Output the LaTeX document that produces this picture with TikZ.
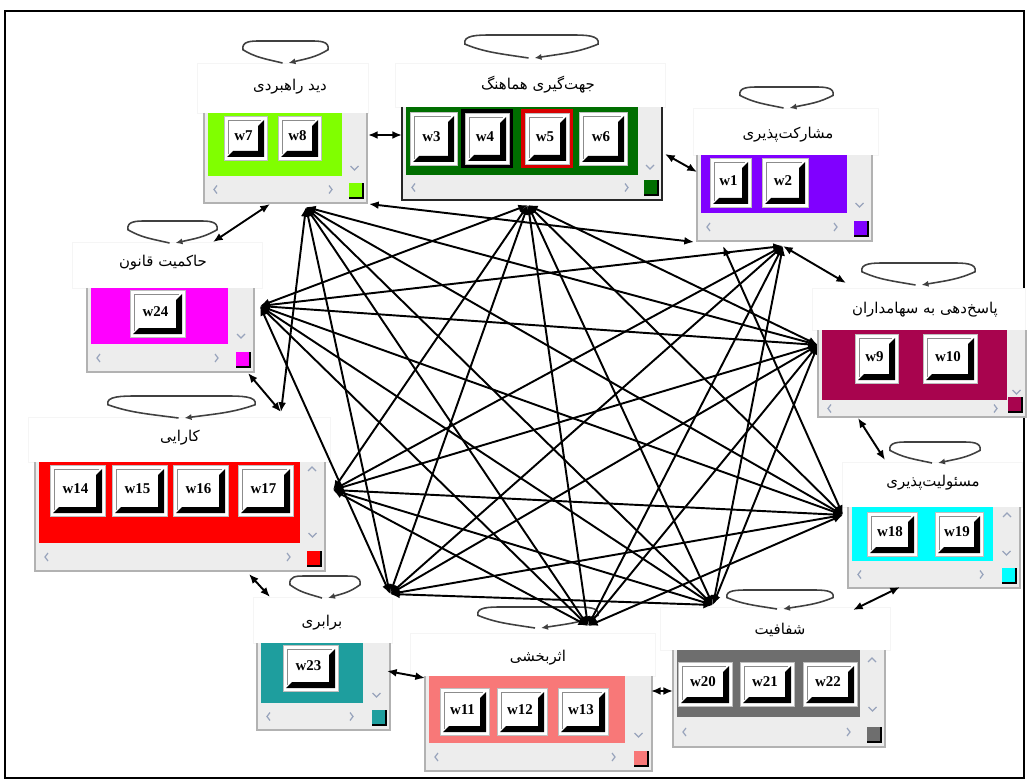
\documentclass[tikz,border=0pt]{standalone}
\usepackage{fontspec}
\newfontfamily\fa[Script=Arabic]{DejaVu Sans}
\newfontfamily\wfont{Liberation Serif}
\TeXXeTstate=1
\usetikzlibrary{arrows.meta}
\definecolor{cDid}{HTML}{80FF00}
\definecolor{cJeh}{HTML}{006E00}
\definecolor{cMosh}{HTML}{8000FF}
\definecolor{cPas}{HTML}{A8044E}
\definecolor{cMas}{HTML}{00FFFF}
\definecolor{cShaf}{HTML}{6E6E6E}
\definecolor{cAsar}{HTML}{F87878}
\definecolor{cBar}{HTML}{1E9E9E}
\definecolor{cKar}{HTML}{FF0000}
\definecolor{cHak}{HTML}{FF00FF}
\definecolor{scrollc}{HTML}{EDEDED}
\definecolor{chevc}{HTML}{98A4BC}
\tikzset{
  link/.style={line width=1.1pt, >={Latex[length=5.5pt,width=4.5pt]}, <->},
  adj/.style={line width=1.1pt, >={Latex[length=5.5pt,width=4.5pt]}, <->},
  loopline/.style={draw=black!75, line width=0.9pt, -{Latex[length=4pt,width=3.5pt]}},
  lbl/.style={font=\fa\fontsize{8.5}{10}\selectfont, inner sep=0pt},
  wlab/.style={font=\wfont\bfseries\fontsize{8.5}{9}\selectfont, inner sep=0pt},
  chev/.style={draw=chevc, line width=0.7pt},
  lblarea/.style={fill=white, draw=black!4, line width=0.5pt},
}
% window: x1 ytop x2 ybot pbot pright color border
\newcommand{\winbox}[8]{%
  \pgfmathsetmacro\hyc{(#5+#4)/2}%
  \pgfmathsetmacro\vxc{(#6+#3)/2}%
  \fill[scrollc] (#1,#2) rectangle (#3,#4);
  \fill[#7] ({#1+4},#2) rectangle (#6,#5);
  \draw[#8, line width=1.2pt] (#1,#2) -- (#1,#4) -- (#3,#4) -- (#3,#2);
  \fill[#7] ({#3-18},{#4-20}) rectangle ({#3-4},{#4-5});
  \draw[black, line width=1pt] ({#3-18},{#4-5}) -- ({#3-4},{#4-5}) -- ({#3-4},{#4-20});
  \draw[chev] ({#1+13},{\hyc-4}) -- ({#1+10},\hyc) -- ({#1+13},{\hyc+4});
  \draw[chev] ({#6-13},{\hyc-4}) -- ({#6-10},\hyc) -- ({#6-13},{\hyc+4});
  \draw[chev] ({\vxc-4},{#5-10}) -- (\vxc,{#5-6}) -- ({\vxc+4},{#5-10});
}
\newcommand{\upchev}[2]{\draw[chev] ({#1-4},{#2+2}) -- (#1,{#2-2}) -- ({#1+4},{#2+2});}
% button: x1 y1 x2 y2 name label
\newcommand{\wbtn}[6]{%
  \pgfmathsetmacro\bxc{(#1+#3)/2-2}%
  \pgfmathsetmacro\byc{(#2+#4)/2-2}%
  \fill[white] (#1,#2) rectangle (#3,#4);
  \draw[black!25, line width=0.4pt] (#1,#2) rectangle (#3,#4);
  \fill[black] ({#3-3},{#2+4}) -- ({#3-3},{#4-3}) -- ({#1+3},{#4-3}) -- ({#1+9},{#4-9}) -- ({#3-9},{#4-9}) -- ({#3-9},{#2+10}) -- cycle;
  \draw[black!45, line width=0.5pt] ({#1+4},{#4-6}) -- ({#1+4},{#2+4}) -- ({#3-6},{#2+4});
  \node[wlab] (#5) at (\bxc,\byc) {#6};
}
% self loop: x1 x2 ytop ybot
\newcommand{\sloop}[4]{%
  \pgfmathsetmacro\lW{#2-#1}%
  \pgfmathsetmacro\lH{#4-#3}%
  \pgfmathsetmacro\lcx{(#1+#2)/2}%
  \pgfmathsetmacro\lye{#3+0.4*\lH}%
  \pgfmathsetmacro\lbl{\lcx-0.25*\lW}\pgfmathsetmacro\lbr{\lcx+0.25*\lW}%
  \pgfmathsetmacro\lby{#4-0.2*\lH}%
  \pgfmathsetmacro\lel{#1+0.15*\lW}\pgfmathsetmacro\ler{#2-0.15*\lW}%
  \pgfmathsetmacro\ley{\lye+0.35*\lH}%
  \pgfmathsetmacro\lxl{#1-0.02*\lW}\pgfmathsetmacro\lxr{#2+0.02*\lW}%
  \pgfmathsetmacro\ltu{\lye-0.4*\lH}%
  \pgfmathsetmacro\lta{#1+0.1*\lW}\pgfmathsetmacro\ltb{#1+0.2*\lW}%
  \pgfmathsetmacro\ltc{#2-0.2*\lW}\pgfmathsetmacro\ltd{#2-0.1*\lW}%
  \draw[loopline] ({\lcx-3},#4) .. controls (\lbl,\lby) and (\lel,\ley) .. (#1,\lye)
    .. controls (\lxl,\ltu) and (\lta,#3) .. (\ltb,#3) -- (\ltc,#3)
    .. controls (\ltd,#3) and (\lxr,\ltu) .. (#2,\lye)
    .. controls (\ler,\ley) and (\lbr,\lby) .. ({\lcx+3},#4);
}
\begin{document}
\begin{tikzpicture}[x=0.02cm,y=-0.02cm]
\useasboundingbox (0,0) rectangle (1029,784);
\draw[line width=1.3pt] (5,11) rectangle (1024,778);

% label areas
\filldraw[lblarea] (197,63) rectangle (368,113);
\filldraw[lblarea] (395,63) rectangle (665,107);
\filldraw[lblarea] (693,108) rectangle (878,155);
\filldraw[lblarea] (812,288) rectangle (1025,330);
\filldraw[lblarea] (842,462) rectangle (1022,507);
\filldraw[lblarea] (660,607) rectangle (890,650);
\filldraw[lblarea] (410,633) rectangle (655,676);
\filldraw[lblarea] (253,597) rectangle (392,643);
\filldraw[lblarea] (28,417) rectangle (330,462);
\filldraw[lblarea] (72,242) rectangle (262,288);

% self loops
\sloop{243}{328}{41}{63}
\sloop{465}{598}{35}{58}
\sloop{740}{833}{87}{108}
\sloop{862}{975}{263}{285}
\sloop{890}{980}{442}{463}
\sloop{727}{833}{590}{609}
\sloop{478}{598}{607}{628}
\sloop{290}{360}{576}{598}
\sloop{108}{255}{396}{418}
\sloop{128}{217}{221}{243}

% hubs
\coordinate (A) at (306,207);
\coordinate (B) at (528,205);
\coordinate (C) at (783,246);
\coordinate (D) at (818,345);
\coordinate (E) at (843,515);
\coordinate (F) at (713,605);
\coordinate (G) at (588,626);
\coordinate (H) at (390,594);
\coordinate (I) at (333,490);
\coordinate (J) at (281,412);
\coordinate (K) at (260,306);
\coordinate (P1) at (369,204);
\coordinate (P2) at (694,242);
\coordinate (P3) at (723,246);

\foreach \a/\b in {A/D,A/E,A/F,A/G,A/H,A/J,B/D,B/E,B/F,B/G,B/H,B/I,B/K,C/F,C/G,C/H,C/I,C/K,D/F,D/G,D/H,D/I,D/K,E/G,E/H,E/I,E/K,F/H,F/I,F/K,G/I,G/K,H/K,P1/P2,E/P3}
  \draw[link] (\a) -- (\b);

% windows
\winbox{204}{113}{367}{203}{176}{342}{cDid}{gray!60}
\winbox{402}{107}{662}{200}{175}{638}{cJeh}{black!85}
\winbox{697}{155}{872}{241}{213}{847}{cMosh}{gray!60}
\winbox{818}{330}{1026}{417}{400}{1007}{cPas}{gray!60}
\winbox{848}{507}{1020}{588}{561}{993}{cMas}{gray!60}
\winbox{673}{650}{885}{747}{717}{860}{cShaf}{gray!60}
\winbox{425}{676}{652}{771}{743}{625}{cAsar}{gray!60}
\winbox{257}{643}{390}{730}{703}{363}{cBar}{gray!60}
\winbox{35}{462}{325}{571}{543}{300}{cKar}{gray!60}
\winbox{87}{288}{254}{372}{344}{228}{cHak}{gray!60}
\upchev{1007}{515}
\upchev{872}{660}
\upchev{312}{469}

% buttons
\draw[black, line width=2.2pt] (463,111) rectangle (511,166);
\draw[red!85!black, line width=2pt] (523,111) rectangle (571,166);
\wbtn{224}{116}{267}{160}{w7}{w7}
\wbtn{278}{116}{321}{160}{w8}{w8}
\wbtn{410}{112}{457}{165}{w3}{w3}
\wbtn{465}{113}{509}{164}{w4}{w4}
\wbtn{525}{113}{569}{164}{w5}{w5}
\wbtn{579}{112}{627}{165}{w6}{w6}
\wbtn{710}{158}{751}{207}{w1}{w1}
\wbtn{762}{158}{808}{207}{w2}{w2}
\wbtn{855}{334}{898}{383}{w9}{w9}
\wbtn{923}{334}{977}{383}{w10}{w10}
\wbtn{867}{512}{917}{556}{w18}{w18}
\wbtn{935}{512}{983}{556}{w19}{w19}
\wbtn{678}{662}{732}{706}{w20}{w20}
\wbtn{740}{662}{794}{706}{w21}{w21}
\wbtn{803}{662}{857}{706}{w22}{w22}
\wbtn{440}{688}{489}{735}{w11}{w11}
\wbtn{497}{688}{547}{735}{w12}{w12}
\wbtn{558}{688}{608}{735}{w13}{w13}
\wbtn{283}{645}{338}{691}{w23}{w23}
\wbtn{50}{465}{105}{516}{w14}{w14}
\wbtn{112}{465}{167}{516}{w15}{w15}
\wbtn{173}{465}{228}{516}{w16}{w16}
\wbtn{238}{465}{293}{516}{w17}{w17}
\wbtn{130}{290}{185}{337}{w24}{w24}

% adjacency arrows
\coordinate (a1) at (368,135); \coordinate (a2) at (402,135);
\coordinate (b1) at (665,154); \coordinate (b2) at (697,172);
\coordinate (c2) at (846,283);
\coordinate (d1) at (858,418); \coordinate (d2) at (885,460);
\coordinate (e1) at (900,587); \coordinate (e2) at (853,610);
\coordinate (f1) at (651,691); \coordinate (f2) at (673,691);
\coordinate (g1) at (387,671); \coordinate (g2) at (425,678);
\coordinate (h1) at (249,574); \coordinate (h2) at (270,597);
\coordinate (k1) at (248,373);
\coordinate (m1) at (213,242); \coordinate (m2) at (270,204);
\foreach \a/\b in {a1/a2,b1/b2,C/c2,d1/d2,e1/e2,f1/f2,g1/g2,h1/h2,k1/J,m1/m2}
  \draw[adj] (\a) -- (\b);

% labels
\node[lbl] (t1) at (290,87) {\fa\beginR دید راهبردی\endR};
\node[lbl] (t2) at (538,85) {\fa\beginR جهت^^^^200cگیری هماهنگ\endR};
\node[lbl] (t3) at (788,135) {\fa\beginR مشارکت^^^^200cپذیری\endR};
\node[lbl] (t4) at (925,310) {\fa\beginR پاسخ^^^^200cدهی به سهامداران\endR};
\node[lbl] (t5) at (933,483) {\fa\beginR مسئولیت^^^^200cپذیری\endR};
\node[lbl] (t6) at (780,630) {\fa\beginR شفافیت\endR};
\node[lbl] (t7) at (538,658) {\fa\beginR اثربخشی\endR};
\node[lbl] (t8) at (322,623) {\fa\beginR برابری\endR};
\node[lbl] (t9) at (180,438) {\fa\beginR کارایی\endR};
\node[lbl] (t10) at (163,263) {\fa\beginR حاکمیت قانون\endR};
\end{tikzpicture}
\end{document}
